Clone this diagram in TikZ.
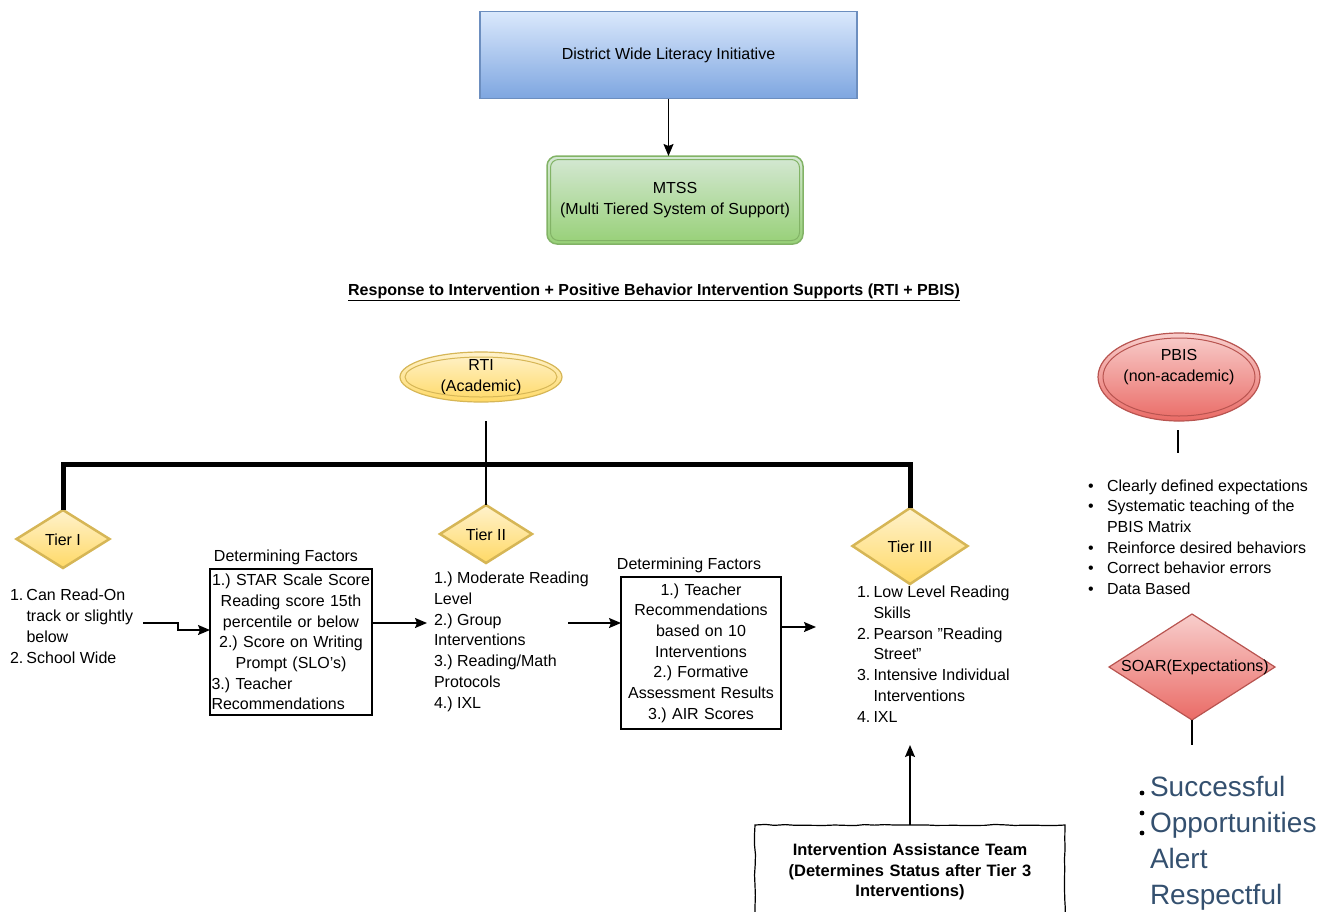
\documentclass[tikz,border=0pt]{standalone}
\usepackage{fontspec}
\setmainfont{Liberation Sans}
\usetikzlibrary{shapes.geometric,arrows.meta,decorations.pathmorphing,calc}
\definecolor{blueTop}{HTML}{DAE8FC}
\definecolor{blueBot}{HTML}{7EA6E0}
\definecolor{blueLine}{HTML}{6C8EBF}
\definecolor{greenTop}{HTML}{D5E8D4}
\definecolor{greenBot}{HTML}{97D077}
\definecolor{greenLine}{HTML}{82B366}
\definecolor{yellowTop}{HTML}{FFF2CC}
\definecolor{yellowBot}{HTML}{FFD966}
\definecolor{yellowLine}{HTML}{D6B656}
\definecolor{redTop}{HTML}{F8CECC}
\definecolor{redBot}{HTML}{EA6B66}
\definecolor{redLine}{HTML}{B85450}
\definecolor{soarBlue}{HTML}{34506F}
\newcommand\basefs{\fontsize{16}{20.7}\selectfont\frenchspacing}
\newcommand\myitem[2]{\makebox[16.5pt][l]{#1}#2}
\newcommand\mycont[1]{\hspace*{16.5pt}#1}
\newcommand\mybul[1]{\makebox[19pt][l]{•}#1}
\newcommand\myleftln[1]{\makebox[\linewidth][l]{#1}}
\newcommand\myq{\symbol{34}}
\begin{document}
\frenchspacing
\begin{tikzpicture}[x=1pt,y=-1pt,font=\basefs,
  every node/.style={inner sep=0pt,outer sep=0pt},
  arr/.style={line width=1.5pt,-{Stealth[length=12pt,width=10pt,inset=2pt]}},
  thinline/.style={line width=1.3pt},
  tierdia/.style={diamond,draw=yellowLine,line width=2.5pt,top color=yellowTop,bottom color=yellowBot},
  factbox/.style={draw,line width=1.2pt,align=center},
  listtext/.style={anchor=base west,align=left},
  sketchbox/.style={draw,line width=1.2pt,decorate,decoration={random steps,segment length=10pt,amplitude=0.6pt}}
]
\useasboundingbox (0,0) rectangle (1330,911);

% top boxes
\node[draw=blueLine,line width=1.2pt,top color=blueTop,bottom color=blueBot,minimum width=377,minimum height=87] (dwli) at (668.5,55) {District Wide Literacy Initiative};
\node[draw=greenLine,line width=1.5pt,rounded corners=10pt,top color=greenTop,bottom color=greenBot,minimum width=256,minimum height=88,align=center] (mtss) at (675,200) {MTSS\\(Multi Tiered System of Support)};
\draw[greenLine,line width=1pt,rounded corners=8pt] ($(mtss.north west)+(3.5,3.5)$) rectangle ($(mtss.south east)+(-3.5,-3.5)$);
\draw[arr] (dwli.south) -- (dwli.south |- mtss.north);

% title
\node[anchor=base,font=\basefs\bfseries] (title) at (654,295) {\underline{Response to Intervention + Positive Behavior Intervention Supports (RTI + PBIS)}};

% RTI
\node[ellipse,draw=yellowLine,line width=1.2pt,top color=yellowTop,bottom color=yellowBot,minimum width=162,minimum height=50,align=center] (rti) at (481,377) {RTI\\(Academic)};
\draw[yellowLine,line width=1pt] (rti.center) ellipse [x radius=76pt,y radius=20pt];

% tiers
\node[tierdia,minimum width=93,minimum height=58] (tier1) at (63,539) {};
\node (tier1t) at (63,540) {Tier I};
\node[tierdia,minimum width=92,minimum height=58] (tier2) at (486,534) {};
\node (tier2t) at (486,535) {Tier II};
\node[tierdia,minimum width=115,minimum height=76] (tier3) at (910,546) {};
\node (tier3t) at (910,547) {Tier III};

\coordinate (rtiline) at (486,421);
\draw[thinline] (rtiline) -- (tier2.north);
\draw[line width=5pt] (tier1.north) -- ++(0,-46) -| (tier3.north);

% tier I list (base = last line)
\node[listtext] (t1list) at (10,663) {\myitem{1.}{Can Read-On}\\\mycont{track or slightly}\\\mycont{below}\\\myitem{2.}{School Wide}};

% box 1
\node (f1title) at (286,557) {Determining Factors};
\node[factbox,minimum width=162,minimum height=146,text width=159] (b1) at (291,642) {1.) STAR Scale Score\\Reading score 15th\\percentile or below\\2.) Score on Writing\\Prompt (SLO's)\\\myleftln{3.) Teacher}\\\myleftln{Recommendations}};

% tier II list
\node[listtext] (t2list) at (434,708) {1.) Moderate Reading\\Level\\2.) Group\\Interventions\\3.) Reading/Math\\Protocols\\4.) IXL};

% box 2
\node (f2title) at (689,565) {Determining Factors};
\node[factbox,minimum width=160,minimum height=152,text width=156] (b2) at (701,653) {1.) Teacher\\Recommendations\\based on 10\\Interventions\\2.) Formative\\Assessment Results\\3.) AIR Scores};

% tier III list
\node[listtext] (t3list) at (857,722) {\myitem{1.}{Low Level Reading}\\\mycont{Skills}\\\myitem{2.}{Pearson \myq Reading}\\\mycont{Street\myq}\\\myitem{3.}{Intensive Individual}\\\mycont{Interventions}\\\myitem{4.}{IXL}};

% arrows between columns
\coordinate (a1s) at (143,623);
\draw[arr] (a1s) -- ++(35,0) |- ([yshift=12pt]b1.west);
\coordinate (a2e) at (427,623);
\draw[arr] ([yshift=19pt]b1.east) -- (a2e);
\coordinate (a3s) at (568,623);
\draw[arr] (a3s) -- ([yshift=30pt]b2.west);
\coordinate (a4e) at (816,627);
\draw[arr] ([yshift=26pt]b2.east) -- (a4e);

% intervention assistance team
\node[sketchbox,minimum width=310,minimum height=94,text width=300,align=center,font=\fontsize{16.5}{20.5}\selectfont\bfseries] (iat) at (910,872) {Intervention Assistance Team\\(Determines Status after Tier 3\\Interventions)};
\coordinate (iatend) at (910,745);
\draw[arr] (iat.north) -- (iatend);

% PBIS
\node[ellipse,draw=redLine,line width=1.2pt,top color=redTop,bottom color=redBot,minimum width=162,minimum height=88] (pbis) at (1179,377) {};
\draw[redLine,line width=1pt] (pbis.center) ellipse [x radius=76pt,y radius=39pt];
\node[align=center] (pbist) at (1179,367) {PBIS\\(non-academic)};
\coordinate (pl1) at (1178,430);
\coordinate (pl2) at (1178,453);
\draw[thinline] (pl1) -- (pl2);

\node[listtext] (pbislist) at (1088,594.5) {\mybul{Clearly defined expectations}\\\mybul{Systematic teaching of the}\\\hspace*{19pt}PBIS Matrix\\\mybul{Reinforce desired behaviors}\\\mybul{Correct behavior errors}\\\mybul{Data Based}};

% SOAR
\node[diamond,draw=redLine,line width=1.2pt,top color=redTop,bottom color=redBot,minimum width=166,minimum height=106] (soar) at (1192,667) {};
\node (soart) at (1195,667) {SOAR(Expectations)};
\coordinate (sl2) at (1192,745);
\draw[thinline] (soar.south) -- (sl2);

\node[listtext,font=\fontsize{28}{36}\selectfont,text=soarBlue] (soarlist) at (1150,904) {Successful\\Opportunities\\Alert\\Respectful};
\fill (1142,793) circle (2.4pt);
\fill (1142,813) circle (2.4pt);
\fill (1142,833) circle (2.4pt);
\end{tikzpicture}
\end{document}
